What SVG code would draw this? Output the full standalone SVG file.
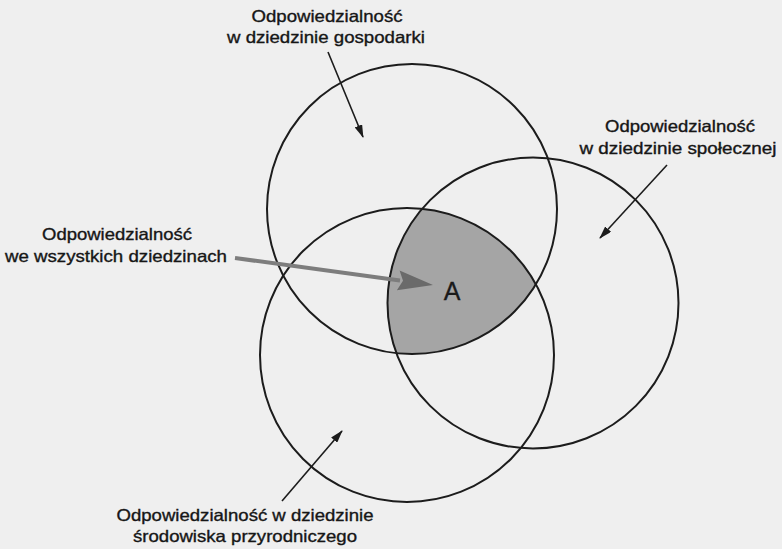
<svg xmlns="http://www.w3.org/2000/svg" width="782" height="549" viewBox="0 0 782 549">
  <style>
    .ring { fill: none; stroke: #1c1c1c; stroke-width: 2; }
    .lbl { font-family: "Liberation Sans", Arial, sans-serif; font-size: 16.5px; fill: #161616; stroke: #161616; stroke-width: 0.35; text-anchor: middle; }
    .big { font-family: "Liberation Sans", Arial, sans-serif; font-size: 25px; fill: #1a1a1a; stroke: #1a1a1a; stroke-width: 0.3; text-anchor: middle; }
    .conn { stroke: #1c1c1c; stroke-width: 1.6; fill: none; marker-end: url(#head); }
  </style>
  <defs>
    <marker id="head" markerUnits="userSpaceOnUse" markerWidth="13" markerHeight="8" refX="12" refY="4" orient="auto">
      <path d="M0,0 L13,4 L0,8 z" fill="#1c1c1c"/>
    </marker>
    <clipPath id="clipB"><circle cx="533" cy="303" r="145.5"/></clipPath>
    <clipPath id="clipC"><circle cx="407" cy="355" r="147"/></clipPath>
  </defs>

  <rect x="0" y="0" width="782" height="549" fill="#efefef"/>

  <g id="intersection-A">
    <g clip-path="url(#clipB)">
      <circle cx="412" cy="209" r="145" fill="#a5a5a5" clip-path="url(#clipC)"/>
    </g>
    <text class="big" x="452" y="300">A</text>
  </g>

  <g id="node-gospodarka">
    <circle class="ring" cx="412" cy="209" r="145"/>
    <text class="lbl" x="327" y="22" textLength="151" lengthAdjust="spacingAndGlyphs">Odpowiedzialność</text>
    <text class="lbl" x="326" y="43" textLength="198" lengthAdjust="spacingAndGlyphs">w dziedzinie gospodarki</text>
  </g>

  <g id="node-spoleczna">
    <circle class="ring" cx="533" cy="303" r="145.5"/>
    <text class="lbl" x="680" y="132" textLength="150" lengthAdjust="spacingAndGlyphs">Odpowiedzialność</text>
    <text class="lbl" x="678" y="154" textLength="197" lengthAdjust="spacingAndGlyphs">w dziedzinie społecznej</text>
  </g>

  <g id="node-srodowisko">
    <circle class="ring" cx="407" cy="355" r="147"/>
    <text class="lbl" x="245" y="521" textLength="257" lengthAdjust="spacingAndGlyphs">Odpowiedzialność w dziedzinie</text>
    <text class="lbl" x="245" y="542" textLength="224" lengthAdjust="spacingAndGlyphs">środowiska przyrodniczego</text>
  </g>

  <g id="node-wszystkie">
    <text class="lbl" x="117" y="240" textLength="150" lengthAdjust="spacingAndGlyphs">Odpowiedzialność</text>
    <text class="lbl" x="116" y="262" textLength="222" lengthAdjust="spacingAndGlyphs">we wszystkich dziedzinach</text>
  </g>

  <g id="connectors">
    <line class="conn" x1="328" y1="52" x2="363" y2="137"/>
    <line class="conn" x1="667" y1="165" x2="600" y2="238"/>
    <line class="conn" x1="282" y1="501" x2="342" y2="431"/>
    <line x1="235" y1="258" x2="400" y2="280.5" stroke="#7d7d7d" stroke-width="4"/>
    <polygon points="433,285 399.6,270.4 403,280.8 396.9,290.2" fill="#6a6a6a"/>
  </g>
</svg>
